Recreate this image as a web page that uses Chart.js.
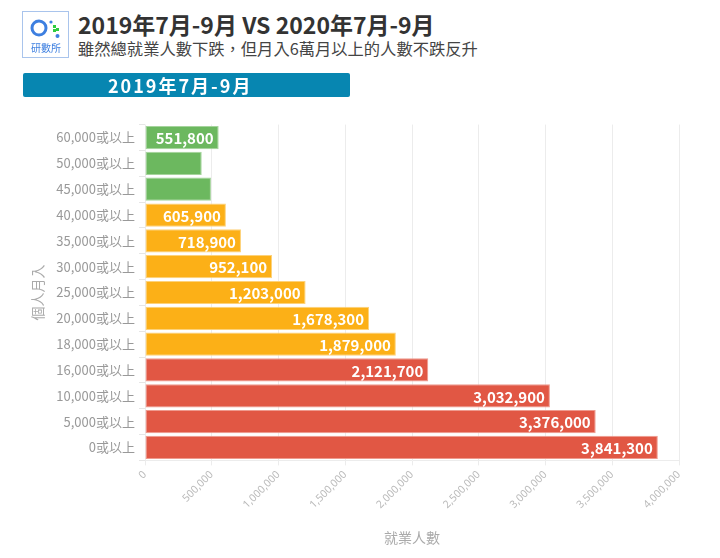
<!DOCTYPE html>
<html>
<head>
<meta charset="utf-8">
<script src="https://cdn.jsdelivr.net/npm/chart.js@4"></script>
<style>
  body { margin: 0; background: #fff; font-family: "Noto Sans CJK TC", "Noto Sans", sans-serif; }
  #wrap { position: relative; width: 720px; height: 558px; overflow: hidden; }
  #logo { position: absolute; left: 22px; top: 11px; width: 47px; height: 47px; border: 1px solid #a9c4ec; box-sizing: border-box; }
  #title { position: absolute; left: 78px; top: 7px; font-size: 23px; font-weight: bold; color: #333; white-space: nowrap; }
  #subtitle { position: absolute; left: 78px; top: 36px; font-size: 16.3px; color: #444; white-space: nowrap; }
  #banner { position: absolute; left: 23px; top: 73px; width: 327px; height: 24px; background: #0786b1; border-radius: 2px; }
  #banner span { position: absolute; left: 85px; top: 0; line-height: 24px; color: #fff; font-size: 18px; font-weight: bold; letter-spacing: 2px; }
  canvas { position: absolute; left: 0; top: 0; }
</style>
</head>
<body>
<div id="wrap">
  <div id="logo"><canvas id="logoCanvas" width="45" height="45"></canvas></div>
  <div id="title">2019年7月-9月 VS 2020年7月-9月</div>
  <div id="subtitle">雖然總就業人數下跌，但月入6萬月以上的人數不跌反升</div>
  <div id="banner"><span>2019年7月-9月</span></div>
  <canvas id="chart" width="720" height="558"></canvas>
</div>
<script>
// =========================
// DATA
// =========================

const incomeLabels = [
  "60,000或以上", "50,000或以上", "45,000或以上", "40,000或以上",
  "35,000或以上", "30,000或以上", "25,000或以上", "20,000或以上",
  "18,000或以上", "16,000或以上", "10,000或以上", "5,000或以上", "0或以上",
];

const workers = [
  551800, 425000, 494000, 605900, 718900, 952100, 1203000,
  1678300, 1879000, 2121700, 3032900, 3376000, 3841300,
];

// which bars get a value label (the two short green ones have none)
const showValue = [true, false, false, true, true, true, true, true, true, true, true, true, true];

// colour group of each bar
const groups = ["g", "g", "g", "o", "o", "o", "o", "o", "o", "r", "r", "r", "r"];

const xTicks = [0, 500000, 1000000, 1500000, 2000000, 2500000, 3000000, 3500000, 4000000];

// =========================
// LOGO
// =========================

const lc = document.getElementById("logoCanvas").getContext("2d");
lc.strokeStyle = "#3d7fe0";
lc.lineWidth = 3;
lc.beginPath();
lc.arc(16, 16, 7, 0, Math.PI * 2);
lc.stroke();
lc.fillStyle = "#3d7fe0";
lc.beginPath(); lc.arc(28, 10, 1.6, 0, Math.PI * 2); lc.fill();
lc.beginPath(); lc.arc(34.5, 24, 2, 0, Math.PI * 2); lc.fill();
lc.fillStyle = "#2ecc40";
lc.fillRect(30, 13, 3, 3);
lc.fillRect(33, 16, 3, 3);
lc.fillRect(30, 17, 3, 3);
lc.fillStyle = "#3d7fe0";
lc.font = "10px 'Noto Sans CJK TC'";
lc.textAlign = "center";
lc.fillText("研數所", 23, 40);

// =========================
// CHART
// =========================

const colorMap = { g: "#6cb85f", o: "#fcb017", r: "#e15744" };
const borderMap = { g: "#a5d49c", o: "#fdd27a", r: "#ee9a8e" };

const valueLabels = {
  id: "valueLabels",
  afterDatasetsDraw(chart) {
    const ctx = chart.ctx;
    const meta = chart.getDatasetMeta(0);
    ctx.save();
    ctx.font = "bold 15px 'Noto Sans CJK TC', 'Noto Sans'";
    ctx.fillStyle = "#fff";
    ctx.textAlign = "right";
    ctx.textBaseline = "middle";
    meta.data.forEach((bar, i) => {
      if (!showValue[i]) return;
      ctx.fillText(workers[i].toLocaleString("en-US"), bar.x - 5, bar.y + 1);
    });
    ctx.restore();
  },
};

new Chart(document.getElementById("chart"), {
  type: "bar",
  data: {
    labels: incomeLabels,
    datasets: [
      {
        data: workers,
        backgroundColor: groups.map((g) => colorMap[g]),
        borderColor: groups.map((g) => borderMap[g]),
        borderWidth: 1,
        borderSkipped: false,
        barPercentage: 0.9,
        categoryPercentage: 1,
      },
    ],
  },
  options: {
    indexAxis: "y",
    responsive: false,
    animation: false,
    layout: { padding: { top: 124.6, right: 41, bottom: 0, left: 0 } },
    plugins: { legend: { display: false }, tooltip: { enabled: false } },
    scales: {
      x: {
        min: 0,
        max: 4000000,
        afterBuildTicks: (scale) => {
          scale.ticks = xTicks.map((v) => ({ value: v }));
        },
        afterFit: (scale) => {
          scale.height = 97.6;
        },
        grid: { color: "#ececec", tickLength: 5 },
        border: { color: "#ececec" },
        ticks: {
          minRotation: 45,
          maxRotation: 45,
          color: "#bbb",
          font: { size: 10.5, family: "'Noto Sans', sans-serif" },
          callback: (v) => Number(v).toLocaleString("en-US"),
        },
        title: {
          display: true,
          text: "就業人數",
          color: "#aaa",
          font: { size: 14, family: "'Noto Sans CJK TC'" },
          padding: { top: 0, bottom: 12 },
        },
      },
      y: {
        afterFit: (scale) => {
          scale.width = 145;
        },
        grid: { drawOnChartArea: false, color: "#e6e6e6", tickLength: 6 },
        border: { display: false },
        ticks: {
          color: "#999",
          padding: 4,
          font: { size: 13, family: "'Noto Sans CJK TC'" },
        },
        title: {
          display: true,
          text: "個人月入",
          color: "#aaa",
          font: { size: 14, family: "'Noto Sans CJK TC'" },
          padding: { top: 29, bottom: 0 },
        },
      },
    },
  },
  plugins: [valueLabels],
});
</script>
</body>
</html>
